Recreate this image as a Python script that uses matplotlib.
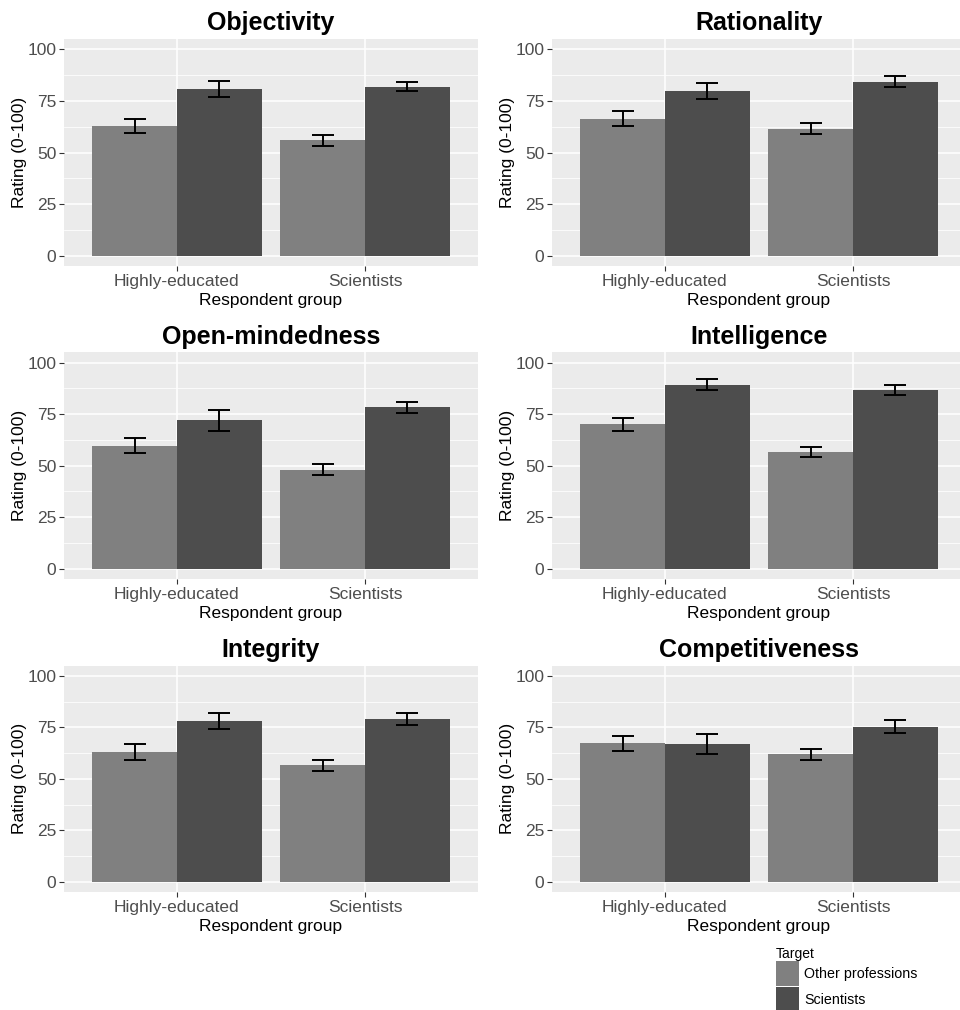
import matplotlib
matplotlib.use("Agg")
import matplotlib.pyplot as plt
from matplotlib.patches import Patch
from matplotlib.ticker import MultipleLocator
import numpy as np

plt.rcParams["font.family"] = ["Liberation Sans", "DejaVu Sans"]

traits = ["Objectivity", "Rationality", "Open-mindedness",
          "Intelligence", "Integrity", "Competitiveness"]
groups = ["Highly-educated", "Scientists"]
targets = ["Other professions", "Scientists"]

# mean ratings per trait: [Highly-educated, Scientists]
other_mean = [[63.0, 55.9], [66.4, 61.4], [59.7, 48.1],
              [70.1, 56.8], [63.0, 56.7], [67.3, 61.9]]
other_err = [[3.4, 2.75], [3.65, 2.65], [3.65, 2.6],
             [3.15, 2.5], [4.05, 2.65], [3.55, 2.6]]
sci_mean = [[80.6, 81.9], [79.8, 84.3], [72.0, 78.3],
            [89.3, 86.7], [78.3, 78.9], [66.9, 75.4]]
sci_err = [[3.95, 2.4], [3.95, 2.65], [5.25, 2.7],
           [2.7, 2.25], [3.85, 2.95], [4.8, 3.25]]

colors = ["#808080", "#4d4d4d"]
W, H = 960, 1010
fig = plt.figure(figsize=(W / 100, H / 100), dpi=100)

cols = [(64, 478), (552, 966)]
rows = [(38.7, 266.4), (352.4, 579.0), (665.7, 892.0)]

x = np.arange(1, len(groups) + 1)
bw = 0.45
for i, trait in enumerate(traits):
    (x0, x1), (y0, y1) = cols[i % 2], rows[i // 2]
    ax = fig.add_axes([x0 / W, 1 - y1 / H, (x1 - x0) / W, (y1 - y0) / H])
    ax.set_facecolor("#ebebeb")
    ax.set_axisbelow(True)
    for s in ax.spines.values():
        s.set_visible(False)
    for means, errs, off, c in [(other_mean[i], other_err[i], -bw / 2, colors[0]),
                                (sci_mean[i], sci_err[i], bw / 2, colors[1])]:
        ax.bar(x + off, means, width=bw, color=c, zorder=2)
        ax.errorbar(x + off, means, yerr=errs, fmt="none", ecolor="black",
                    elinewidth=1.4, capsize=11.5 * 0.72, capthick=1.4, zorder=3)
    ax.set_xlim(0.4, 2.6)
    ax.set_ylim(-5, 105)
    ax.set_xticks(x)
    ax.set_xticklabels(groups)
    ax.set_yticks([0, 25, 50, 75, 100])
    ax.yaxis.set_minor_locator(MultipleLocator(12.5))
    ax.tick_params(which="minor", length=0)
    ax.grid(which="major", color="white", lw=1.1)
    ax.grid(which="minor", axis="y", color="white", lw=0.55)
    ax.tick_params(which="major", length=3.5, width=0.8, color="#333333",
                   labelcolor="#4d4d4d", labelsize=12.5, pad=2)
    ax.set_xlabel("Respondent group", fontsize=12.5, labelpad=3)
    ax.set_ylabel("Rating (0-100)", fontsize=12.5, labelpad=0.5)
    ax.set_title(trait, fontsize=18, fontweight="bold", pad=6)

handles = [Patch(facecolor=c, edgecolor="none") for c in colors]
leg = fig.legend(handles, targets, title="Target", loc="upper left",
                 bbox_to_anchor=(770 / W, 1 - 941 / H), frameon=False,
                 fontsize=10.3, title_fontsize=10, handlelength=1.6,
                 handleheight=2.3, labelspacing=0.05, handletextpad=0.4,
                 borderaxespad=0)
leg._legend_box.align = "left"

fig.savefig("out.png", dpi=100)
